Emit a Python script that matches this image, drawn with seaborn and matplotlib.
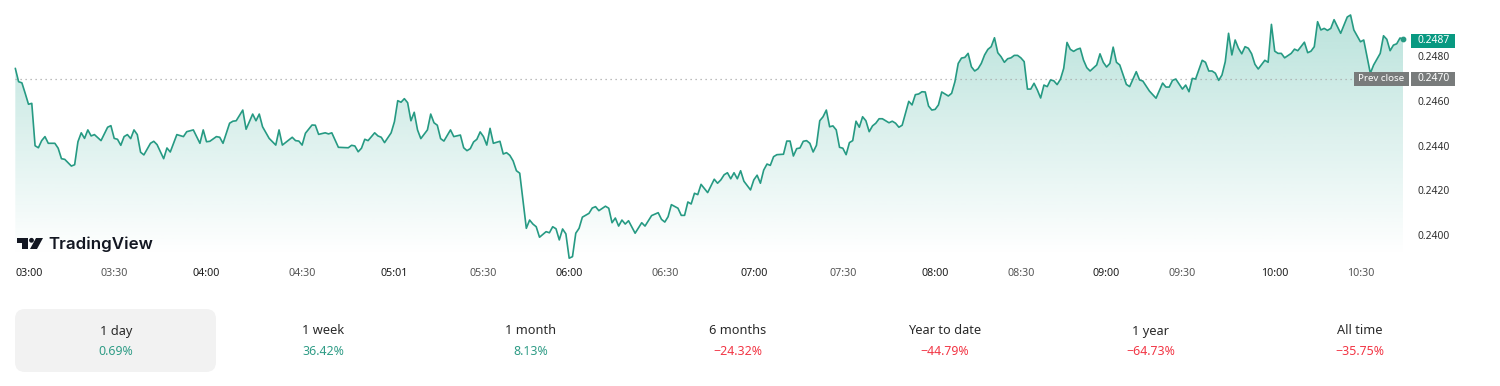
import numpy as np
import matplotlib
matplotlib.use('Agg')
import matplotlib.pyplot as plt
import seaborn as sns
from matplotlib.patches import Circle, FancyBboxPatch, Polygon, Rectangle

bars = [0, 1, 2, 3, 4, 5, 6, 7, 8, 9, 10, 12, 13, 14, 15, 17, 18, 19, 20, 21, 22, 23, 24, 26, 28, 29, 30, 31, 32, 33,
        34, 35, 36, 37, 38, 39, 41, 42, 43,
        45, 46, 47, 49, 51, 52, 54, 56, 57, 58, 59, 61, 62, 63, 65, 66, 67, 69, 70, 72, 73, 74, 75, 77, 79, 80, 81,
        84, 85, 86, 87, 88, 90, 91, 92, 94, 95, 96, 98, 101, 102, 103, 104, 105, 106, 107, 109, 110, 111, 112, 114,
        115, 116, 117, 118, 119, 120, 121, 122, 123, 125, 126, 127, 128, 129, 130, 132, 133, 135, 136, 137, 138, 139,
        140, 141, 142, 143, 144, 145, 147, 148, 149, 150, 151, 152, 153, 155, 156, 157, 158, 159, 161, 162, 163, 164,
        165, 166, 167, 168, 169, 170, 171, 172, 174, 175, 176, 177, 179, 180, 181, 182, 183, 184, 185, 186, 188, 190,
        191, 193, 195, 196, 197, 198, 199, 201, 202, 203, 204, 205, 206, 207, 208, 210, 212, 213,
        214, 215, 216, 217, 218, 219, 220, 221, 223, 224, 225, 226, 227, 228, 229, 230, 231, 233, 234, 235, 236, 237,
        238, 239, 240, 241, 242, 243, 244, 245, 246, 247, 248, 249, 250, 251, 252, 253, 254, 255, 256, 257, 258, 259,
        260, 261, 262, 263, 265, 266, 267, 268, 269, 271, 272, 273, 274, 275, 276, 277, 278, 279, 280, 281, 283, 284,
        285, 286, 287, 288, 289, 290, 291, 292, 293, 294, 295, 296, 297, 298, 299, 300, 301, 302, 303, 304, 305, 306,
        307, 308, 309, 310, 311, 312, 313, 314, 315, 316, 317, 318, 319, 320, 321, 322, 323, 324, 325, 326, 328, 329,
        330, 331, 332, 333, 334, 335, 337, 338, 340, 341, 342, 344, 346, 348, 349, 350, 351, 352, 354, 355, 356, 357,
        358, 360, 361, 362, 363, 364, 365, 366, 367, 368, 369, 370, 371, 372, 373, 374, 375, 376, 377, 379, 380, 381,
        382, 383, 384, 385, 387, 388, 389, 391, 392, 393, 394, 395, 396, 397, 398, 399, 400, 402, 404, 405, 406, 408,
        409, 411, 412, 414, 415, 416, 417, 418, 419, 420, 421]

prices = [0.24747, 0.24687, 0.24682, 0.24635, 0.24586, 0.24590, 0.24400, 0.24391, 0.24423, 0.24441, 0.24411, 0.24411,
          0.24389, 0.24342, 0.24339, 0.24309, 0.24315, 0.24418, 0.24458, 0.24433, 0.24471, 0.24444, 0.24450, 0.24423,
          0.24483, 0.24490, 0.24433, 0.24429, 0.24402, 0.24441, 0.24450, 0.24432, 0.24471, 0.24450, 0.24371, 0.24359,
          0.24411, 0.24420, 0.24405,
          0.24342, 0.24390, 0.24372, 0.24450, 0.24441, 0.24463, 0.24471, 0.24411, 0.24471, 0.24418, 0.24420, 0.24441,
          0.24438, 0.24411, 0.24501, 0.24510, 0.24512, 0.24560, 0.24474, 0.24542, 0.24512, 0.24542, 0.24485, 0.24433,
          0.24403, 0.24471, 0.24403, 0.24438, 0.24423, 0.24421, 0.24403, 0.24456, 0.24493, 0.24492, 0.24451, 0.24458,
          0.24453, 0.24458, 0.24393, 0.24391, 0.24402, 0.24399, 0.24373, 0.24389, 0.24429, 0.24423, 0.24458, 0.24444,
          0.24438, 0.24414, 0.24458, 0.24508, 0.24602, 0.24595, 0.24611, 0.24593, 0.24512, 0.24550, 0.24471, 0.24432,
          0.24471, 0.24542, 0.24503, 0.24492, 0.24432, 0.24421, 0.24471, 0.24441, 0.24448, 0.24391, 0.24378, 0.24387,
          0.24417, 0.24429, 0.24462, 0.24441, 0.24403, 0.24478, 0.24411, 0.24420, 0.24363, 0.24369, 0.24357, 0.24332,
          0.24288, 0.24277, 0.24030, 0.24067, 0.24049, 0.24037, 0.23990, 0.24015, 0.24010, 0.24037, 0.24028, 0.23978,
          0.24027, 0.24005, 0.23896, 0.23903, 0.24008, 0.24030, 0.24080, 0.24097, 0.24121, 0.24127, 0.24109, 0.24129,
          0.24120, 0.24055, 0.24076, 0.24040, 0.24067, 0.24049, 0.24064, 0.24008, 0.24055, 0.24040, 0.24087, 0.24100,
          0.24070, 0.24058, 0.24082, 0.24136, 0.24120, 0.24088, 0.24088, 0.24148, 0.24139, 0.24187, 0.24181, 0.24227,
          0.24190, 0.24250, 0.24232,
          0.24247, 0.24270, 0.24279, 0.24252, 0.24279, 0.24252, 0.24288, 0.24241, 0.24202, 0.24247, 0.24268, 0.24232,
          0.24291, 0.24318, 0.24312, 0.24351, 0.24360, 0.24362, 0.24421, 0.24421, 0.24354, 0.24387, 0.24390, 0.24420,
          0.24423, 0.24411, 0.24372, 0.24402, 0.24512, 0.24530, 0.24560, 0.24485, 0.24489, 0.24471, 0.24393, 0.24389,
          0.24360, 0.24414, 0.24423, 0.24510, 0.24483, 0.24530, 0.24512, 0.24463, 0.24489, 0.24501, 0.24521, 0.24521,
          0.24503, 0.24510, 0.24501, 0.24483, 0.24492, 0.24599, 0.24583, 0.24629, 0.24632, 0.24642, 0.24641, 0.24578,
          0.24560, 0.24563, 0.24583, 0.24641, 0.24623, 0.24635, 0.24687, 0.24769, 0.24793, 0.24796, 0.24814, 0.24754,
          0.24735, 0.24745, 0.24769, 0.24807, 0.24832, 0.24844, 0.24884, 0.24817, 0.24799, 0.24774, 0.24790, 0.24794,
          0.24805, 0.24805, 0.24794, 0.24777, 0.24654, 0.24654, 0.24680, 0.24650, 0.24614, 0.24672, 0.24665, 0.24695,
          0.24691, 0.24674, 0.24698, 0.24747, 0.24863, 0.24832, 0.24823, 0.24832, 0.24837, 0.24784, 0.24750, 0.24735,
          0.24762, 0.24812, 0.24774, 0.24753, 0.24769, 0.24842, 0.24774, 0.24762, 0.24675, 0.24665, 0.24732, 0.24695,
          0.24690, 0.24645, 0.24613, 0.24681, 0.24663, 0.24663, 0.24693, 0.24699, 0.24654, 0.24672, 0.24642, 0.24702,
          0.24699, 0.24783, 0.24774, 0.24735, 0.24735, 0.24725, 0.24693, 0.24717, 0.24777, 0.24904, 0.24807, 0.24874,
          0.24837, 0.24812, 0.24844, 0.24837, 0.24812, 0.24765, 0.24744, 0.24783, 0.24774, 0.24944, 0.24824, 0.24814,
          0.24814, 0.24794, 0.24814, 0.24833, 0.24826, 0.24864, 0.24817, 0.24824, 0.24844, 0.24956, 0.24919, 0.24926,
          0.24917, 0.24926, 0.24965, 0.24904, 0.24977, 0.24986, 0.24919, 0.24866, 0.24874, 0.24725, 0.24762, 0.24814,
          0.24893, 0.24877, 0.24826, 0.24851, 0.24857, 0.24883, 0.24877]

tick_bars = [0, 30, 58, 87, 115, 142, 168, 197, 224, 251, 279, 305, 331, 354, 382, 408]
tick_labels = ['03:00', '03:30', '04:00', '04:30', '05:01', '05:30', '06:00', '06:30', '07:00', '07:30', '08:00',
               '08:30', '09:00', '09:30', '10:00', '10:30']
hour_labels = ['03:00', '04:00', '05:01', '06:00', '07:00', '08:00', '09:00', '10:00']
y_ticks = [0.2480, 0.2460, 0.2440, 0.2420, 0.2400]
prev_close = 0.2470
last_price = '0.2487'
periods = ['1 day', '1 week', '1 month', '6 months', 'Year to date', '1 year', 'All time']
changes = ['0.69%', '36.42%', '8.13%', '−24.32%', '−44.79%', '−64.73%', '−35.75%']

W, H = 1500, 386
GREEN = '#269a83'
TEAL = '#089981'
RED = '#f23645'

sns.set_theme(style='white')
plt.rcParams['font.family'] = ['Noto Sans', 'DejaVu Sans']

fig = plt.figure(figsize=(W / 100, H / 100), dpi=100)
left, right, top, bottom = 15.3, 1403.3, 5, 256
ax = fig.add_axes([left / W, 1 - bottom / H, (right - left) / W, (bottom - top) / H])
sns.lineplot(x=bars, y=prices, ax=ax, color=GREEN, linewidth=1.2, zorder=4, clip_on=False)
ax.set_xlim(0, 421)
# .2480 sits at y=56.5 and .2400 at y=235 in the picture
per_px = 0.0080 / (235 - 56.5)
ax.set_ylim(0.2480 - (bottom - 56.5) * per_px, 0.2480 + (56.5 - top) * per_px)
sns.despine(ax=ax, left=True, bottom=True)
ax.patch.set_alpha(0)

# area gradient clipped to the price polygon
y0, y1 = ax.get_ylim()
grad = np.zeros((256, 2, 4))
grad[..., 0] = 8 / 255
grad[..., 1] = 153 / 255
grad[..., 2] = 129 / 255
grad[..., 3] = np.linspace(0.29, 0, 256)[:, None]
im = ax.imshow(grad, extent=[0, 421, y0, y1], origin='upper', aspect='auto', zorder=1)
poly = Polygon(list(zip(bars, prices)) + [(421, y0), (0, y0)], closed=True, transform=ax.transData, fc='none', ec='none')
ax.add_patch(poly)
im.set_clip_path(poly)
ax.set_xlim(0, 421)
ax.set_ylim(y0, y1)

ax.axhline(prev_close, color='#a8a8a8', linewidth=0.9, linestyle=(0, (1, 3)), zorder=3)
ax.scatter([bars[-1]], [prices[-1]], s=10, color=GREEN, zorder=5, clip_on=False)

ax.yaxis.tick_right()
ax.set_yticks(y_ticks)
ax.set_yticklabels(['%.4f' % v for v in y_ticks])
ax.tick_params(axis='y', length=0, pad=10.5, labelsize=7.4, labelcolor='#303030')
ax.set_xticks(tick_bars)
ax.set_xticklabels(tick_labels)
ax.tick_params(axis='x', length=0, pad=9, labelsize=7.7)
for lab in ax.get_xticklabels():
    if lab.get_text() in hour_labels:
        lab.set_fontweight('semibold')
        lab.set_color('#1c1c1c')
    else:
        lab.set_color('#555555')
ax.get_xticklabels()[0].set_ha('left')
ax.grid(False)

# overlay in picture pixels for the price tags, logo and period tabs
ov = fig.add_axes([0, 0, 1, 1], zorder=10)
ov.set_xlim(0, W)
ov.set_ylim(H, 0)
ov.axis('off')

ov.add_patch(Rectangle((1411, 34), 44, 14, fc=TEAL, ec='none'))
ov.text(1434, 40.5, last_price, color='white', fontsize=7.4, fontweight='bold', ha='center', va='center')
ov.add_patch(Rectangle((1354, 72), 55, 14, fc='#787b7b', ec='none'))
ov.add_patch(Rectangle((1411, 72), 44, 14, fc='#787b7b', ec='none'))
ov.text(1381.5, 78.5, 'Prev close', color='white', fontsize=7, ha='center', va='center')
ov.text(1434, 78.5, '%.4f' % prev_close, color='white', fontsize=7.4, fontweight='bold', ha='center', va='center')

ov.add_patch(Polygon([(17, 238), (28, 238), (28, 249), (22, 249), (22, 243), (17, 243)], fc='#131722', ec='none'))
ov.add_patch(Circle((31.5, 240.3), 2.4, fc='#131722', ec='none'))
ov.add_patch(Polygon([(36, 238), (43, 238), (37, 249), (30, 249)], fc='#131722', ec='none'))
ov.text(48, 244.5, 'TradingView', color='#131722', fontsize=12.2, fontweight='semibold', family=['Inter', 'DejaVu Sans'],
        ha='left', va='center')

ov.add_patch(FancyBboxPatch((25, 319), 181, 43, boxstyle='round,pad=10,rounding_size=10', fc='#f2f2f2', ec='none',
                            mutation_aspect=1))
centers = [116, 323, 531, 738, 945, 1151, 1360]
for c, name, chg in zip(centers, periods, changes):
    col = RED if chg.startswith('−') else '#2f9c86'
    ov.text(c, 331, name, color='#2a2a2a', fontsize=9.2, ha='center', va='center')
    ov.text(c, 351.5, chg, color=col, fontsize=8.9, ha='center', va='center')

plt.savefig('out.png', dpi=100)
